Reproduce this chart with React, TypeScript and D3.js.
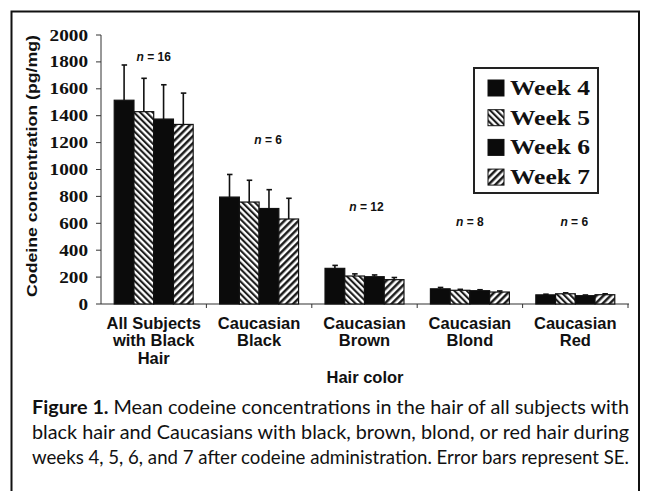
import React from 'react';
import * as d3 from 'd3';

// values
const categories = ['All Subjects|with Black|Hair', 'Caucasian|Black', 'Caucasian|Brown', 'Caucasian|Blond', 'Caucasian|Red'];
const weeks = ['Week 4', 'Week 5', 'Week 6', 'Week 7'];
const week4 = [1515, 795, 265, 113, 68];
const week5 = [1430, 758, 208, 102, 76];
const week6 = [1375, 710, 203, 99, 62];
const week7 = [1335, 632, 181, 89, 69];
const se4 = [262, 168, 22, 10, 5];
const se5 = [248, 162, 16, 7, 7];
const se6 = [255, 140, 13, 7, 5];
const se7 = [233, 154, 16, 8, 7];
const nCounts = [16, 6, 12, 8, 6];
const yTicks = [0, 200, 400, 600, 800, 1000, 1200, 1400, 1600, 1800, 2000];
const captionLines = [
  'Mean codeine concentrations in the hair of all subjects with',
  'black hair and Caucasians with black, brown, blond, or red hair during',
  'weeks 4, 5, 6, and 7 after codeine administration. Error bars represent SE.',
];

const values = [week4, week5, week6, week7];
const errors = [se4, se5, se6, se7];
const fills = ['#0b0b0b', 'url(#hatchBack)', '#0b0b0b', 'url(#hatchFwd)'];

// layout bits for the n labels (pixel placement only)
const nLabelY = [61, 144, 211, 226, 226];
const nLabelDx = [0, 9, 2, 0, -1];

const serif = '"Liberation Serif", "Times New Roman", serif';
const sans = '"Liberation Sans", Arial, sans-serif';

export default function App() {
  const width = 645, height = 491;
  const y = d3.scaleLinear().domain([0, 2000]).range([304, 35]);
  const x0 = d3.scaleBand().domain(categories).range([101, 628]);
  const x1 = d3.scaleBand().domain(weeks).range([0, x0.bandwidth()]).paddingOuter(0.67);

  return (
    <svg width={width} height={height} style={{ position: 'absolute', left: 0, top: 0, background: '#fff' }}>
      <defs>
        <pattern id="hatchBack" width="4.4" height="4.4" patternUnits="userSpaceOnUse" patternTransform="rotate(-45)">
          <rect width="4.4" height="4.4" fill="#fff" />
          <line x1="1.1" y1="0" x2="1.1" y2="4.4" stroke="#111" strokeWidth="2" />
        </pattern>
        <pattern id="hatchFwd" width="5" height="5" patternUnits="userSpaceOnUse" patternTransform="rotate(45)">
          <rect width="5" height="5" fill="#fff" />
          <line x1="1.3" y1="0" x2="1.3" y2="5" stroke="#111" strokeWidth="2.4" />
        </pattern>
      </defs>

      {/* figure frame */}
      <path d="M11.5,491 V11.5 H639 V491" fill="none" stroke="#111" strokeWidth="2" />

      {/* y axis */}
      <line x1={101} x2={101} y1={y(2000)} y2={y(0)} stroke="#333" strokeWidth="1" />
      {yTicks.map(t => (
        <g key={t}>
          <line x1={96} x2={101} y1={y(t)} y2={y(t)} stroke="#333" />
          <text x={88} y={y(t) + 5.5} textAnchor="end" fontFamily={serif} fontWeight="bold" fontSize={16}
            textLength={String(t).length * 9.6} lengthAdjust="spacingAndGlyphs" fill="#111">{t}</text>
        </g>
      ))}
      <text transform={`translate(37,166) rotate(-90)`} textAnchor="middle" fontFamily={sans} fontWeight="bold"
        fontSize={15} textLength={262} lengthAdjust="spacingAndGlyphs" fill="#111">Codeine concentration (pg/mg)</text>

      {/* x axis */}
      <line x1={101} x2={629} y1={y(0)} y2={y(0)} stroke="#333" strokeWidth="1.2" />
      {categories.map((c, i) => (
        <line key={'t' + i} x1={x0(c)! + x0.bandwidth()} x2={x0(c)! + x0.bandwidth()} y1={y(0)} y2={y(0) + 4} stroke="#333" />
      ))}

      {/* bars */}
      {categories.map((c, i) => (
        <g key={c} transform={`translate(${x0(c)},0)`}>
          {weeks.map((w, k) => {
            const v = values[k][i];
            const e = errors[k][i];
            const bx = x1(w)!;
            const cx = bx + x1.bandwidth() / 2;
            return (
              <g key={w}>
                <line x1={cx} x2={cx} y1={y(v)} y2={y(v + e)} stroke="#111" strokeWidth="1.6" />
                <line x1={cx - 2.5} x2={cx + 3} y1={y(v + e)} y2={y(v + e)} stroke="#111" strokeWidth="1.6" />
                <rect x={bx} y={y(v)} width={x1.bandwidth()} height={y(0) - y(v)} fill={fills[k]} stroke="#111" strokeWidth="1.2" />
              </g>
            );
          })}
          <text x={x0.bandwidth() / 2 + nLabelDx[i]} y={nLabelY[i]} textAnchor="middle" fontFamily={sans}
            fontWeight="bold" fontSize={12} fill="#111">
            <tspan fontStyle="italic">n</tspan> = {nCounts[i]}
          </text>
          {c.split('|').map((line, j) => (
            <text key={j} x={x0.bandwidth() / 2} y={329 + j * 17.4} textAnchor="middle" fontFamily={sans}
              fontWeight="bold" fontSize={16.5} fill="#111">{line}</text>
          ))}
        </g>
      ))}

      <text x={365} y={383} textAnchor="middle" fontFamily={sans} fontWeight="bold" fontSize={16.5} fill="#111">Hair color</text>

      {/* legend */}
      <rect x={474} y={68} width={124} height={125} fill="#fff" stroke="#222" strokeWidth="2" />
      {weeks.map((w, k) => (
        <g key={w} transform={`translate(488,${80 + k * 29.7})`}>
          <rect width={16} height={16} fill={fills[k]} stroke="#111" strokeWidth="1" />
          <text x={22} y={15} fontFamily={serif} fontWeight="bold" fontSize={21} textLength={80}
            lengthAdjust="spacingAndGlyphs" fill="#111">{w}</text>
        </g>
      ))}

      {/* caption */}
      {captionLines.map((line, i) => (
        <text key={i} x={32} y={414 + i * 25} fontFamily="Lato, 'Open Sans', sans-serif" fontSize={19}
          textLength={597} lengthAdjust="spacingAndGlyphs" fill="#111">
          {i === 0 ? <tspan fontWeight="bold">Figure 1. </tspan> : null}{line}
        </text>
      ))}
    </svg>
  );
}
